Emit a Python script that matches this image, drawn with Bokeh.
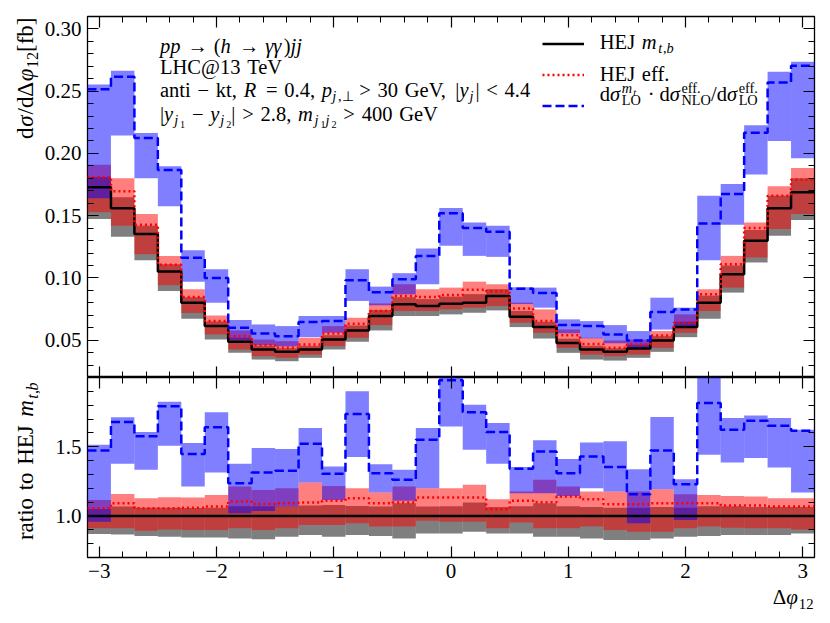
import math
from bokeh.plotting import figure
from bokeh.layouts import column, row
from bokeh.models import (Range1d, LinearAxis, FixedTicker, Label, Legend, LegendItem,
                          PrintfTickFormatter)
from bokeh.embed import file_html
from bokeh.resources import INLINE

# ---------------- data ----------------
edges = [-3.1, -2.9, -2.7, -2.5, -2.3, -2.1, -1.9, -1.7, -1.5, -1.3, -1.1, -0.9, -0.7, -0.5,
         -0.3, -0.1, 0.1, 0.3, 0.5, 0.7, 0.9, 1.1, 1.3, 1.5, 1.7, 1.9, 2.1, 2.3, 2.5, 2.7,
         2.9, 3.1]

# HEJ m_{t,b}
hej_mt = [0.1728, 0.1559, 0.1352, 0.1051, 0.0801, 0.0613, 0.0487, 0.0425, 0.0406, 0.0425,
          0.0505, 0.0578, 0.0694, 0.0788, 0.0774, 0.0793, 0.0801, 0.0855, 0.0688, 0.0605,
          0.0478, 0.0425, 0.0406, 0.0433, 0.0497, 0.0605, 0.0801, 0.1030, 0.1298, 0.1559,
          0.1688]
hej_mt_lo = [0.1473, 0.1331, 0.1142, 0.0895, 0.0672, 0.0505, 0.0398, 0.0344, 0.0331, 0.0358,
             0.0425, 0.0487, 0.0578, 0.0694, 0.0694, 0.0707, 0.0720, 0.0739, 0.0605, 0.0513,
             0.0398, 0.0344, 0.0336, 0.0358, 0.0406, 0.0524, 0.0672, 0.0882, 0.1124, 0.1339,
             0.1465]
hej_mt_hi = [0.1810, 0.1648, 0.1420, 0.1110, 0.0845, 0.0650, 0.0520, 0.0455, 0.0435, 0.0455,
             0.0540, 0.0618, 0.0742, 0.0845, 0.0830, 0.0850, 0.0870, 0.0910, 0.0735, 0.0648,
             0.0512, 0.0455, 0.0435, 0.0463, 0.0532, 0.0648, 0.0858, 0.1100, 0.1385, 0.1660,
             0.1800]
# HEJ eff.
hej_eff = [0.1809, 0.1696, 0.1427, 0.1105, 0.0847, 0.0653, 0.0532, 0.0460, 0.0438, 0.0465,
           0.0554, 0.0632, 0.0734, 0.0855, 0.0847, 0.0863, 0.0905, 0.0893, 0.0755, 0.0653,
           0.0540, 0.0470, 0.0438, 0.0465, 0.0538, 0.0640, 0.0868, 0.1110, 0.1401, 0.1661,
           0.1788]
hej_eff_lo = [0.1527, 0.1419, 0.1191, 0.0941, 0.0718, 0.0546, 0.0425, 0.0371, 0.0358, 0.0384,
              0.0452, 0.0519, 0.0621, 0.0734, 0.0734, 0.0747, 0.0761, 0.0774, 0.0640, 0.0559,
              0.0438, 0.0384, 0.0371, 0.0384, 0.0438, 0.0559, 0.0734, 0.0922, 0.1164, 0.1392,
              0.1513]
hej_eff_hi = [0.1909, 0.1801, 0.1513, 0.1177, 0.0909, 0.0699, 0.0578, 0.0505, 0.0492, 0.0519,
              0.0613, 0.0680, 0.0795, 0.0949, 0.0909, 0.0922, 0.0970, 0.0949, 0.0801, 0.0747,
              0.0586, 0.0519, 0.0497, 0.0505, 0.0573, 0.0707, 0.0909, 0.1177, 0.1446, 0.1737,
              0.1882]
# dsigma_LO^{mt} * dsigma_NLO^eff / dsigma_LO^eff
rescaled = [0.2516, 0.2616, 0.2124, 0.1866, 0.1161, 0.1000, 0.0599, 0.0554, 0.0532, 0.0645,
            0.0653, 0.0981, 0.0885, 0.0989, 0.1177, 0.1519, 0.1401, 0.1371, 0.0912, 0.0878,
            0.0621, 0.0613, 0.0546, 0.0497, 0.0726, 0.0747, 0.1438, 0.1675, 0.2167, 0.2570,
            0.2704]
rescaled_lo = [0.1640, 0.2145, 0.1801, 0.1575, 0.0970, 0.0801, 0.0500, 0.0460, 0.0450, 0.0524,
               0.0560, 0.0815, 0.0780, 0.0868, 0.0949, 0.1258, 0.1177, 0.1169, 0.0790, 0.0761,
               0.0555, 0.0515, 0.0475, 0.0430, 0.0585, 0.0610, 0.1142, 0.1427, 0.1831, 0.2099,
               0.1962]
rescaled_hi = [0.2554, 0.2664, 0.2164, 0.1898, 0.1223, 0.1070, 0.0661, 0.0626, 0.0613, 0.0694,
               0.0694, 0.1070, 0.0930, 0.1038, 0.1237, 0.1562, 0.1446, 0.1419, 0.0925, 0.0922,
               0.0667, 0.0653, 0.0621, 0.0573, 0.0841, 0.0761, 0.1661, 0.1755, 0.2226, 0.2656,
               0.2737]

# ratio to HEJ m_{t,b}
r_mt_lo = [0.870, 0.867, 0.855, 0.850, 0.845, 0.845, 0.838, 0.831, 0.850, 0.862, 0.850, 0.862,
           0.855, 0.838, 0.874, 0.874, 0.886, 0.874, 0.874, 0.850, 0.850, 0.838, 0.826, 0.826,
           0.838, 0.850, 0.855, 0.862, 0.862, 0.862, 0.874]
r_mt_hi = [1.050, 1.068, 1.060, 1.060, 1.058, 1.060, 1.070, 1.070, 1.070, 1.075, 1.080, 1.072,
           1.068, 1.092, 1.068, 1.070, 1.097, 1.065, 1.070, 1.092, 1.070, 1.065, 1.060, 1.060,
           1.065, 1.060, 1.070, 1.070, 1.065, 1.065, 1.065]
r_eff = [1.056, 1.092, 1.056, 1.056, 1.060, 1.068, 1.104, 1.087, 1.092, 1.097, 1.109, 1.128,
         1.092, 1.097, 1.133, 1.133, 1.133, 1.048, 1.109, 1.099, 1.140, 1.121, 1.085, 1.085,
         1.092, 1.092, 1.092, 1.075, 1.075, 1.068, 1.068]
r_eff_lo = [0.911, 0.911, 0.894, 0.903, 0.899, 0.899, 0.911, 0.899, 0.911, 0.935, 0.935, 0.947,
            0.923, 0.923, 0.966, 0.959, 0.959, 0.911, 0.952, 0.911, 0.911, 0.923, 0.899, 0.886,
            0.886, 0.911, 0.923, 0.915, 0.911, 0.911, 0.903]
r_eff_hi = [1.116, 1.159, 1.128, 1.135, 1.133, 1.152, 1.213, 1.188, 1.200, 1.242, 1.217, 1.200,
            1.169, 1.213, 1.200, 1.200, 1.225, 1.121, 1.176, 1.261, 1.213, 1.176, 1.176, 1.176,
            1.193, 1.157, 1.152, 1.145, 1.140, 1.128, 1.128]
r_resc = [1.473, 1.679, 1.575, 1.792, 1.447, 1.640, 1.237, 1.314, 1.326, 1.522, 1.304, 1.737,
          1.309, 1.261, 1.551, 1.981, 1.749, 1.606, 1.341, 1.466, 1.309, 1.430, 1.353, 1.157,
          1.473, 1.229, 1.816, 1.623, 1.688, 1.652, 1.616]
r_resc_lo = [0.959, 1.377, 1.333, 1.507, 1.213, 1.314, 1.019, 1.036, 1.068, 1.242, 1.116, 1.425,
             1.169, 1.109, 1.200, 1.647, 1.478, 1.377, 1.164, 1.164, 1.145, 1.200, 1.176, 0.947,
             1.193, 0.971, 1.442, 1.386, 1.418, 1.350, 1.169]
r_resc_hi = [1.514, 1.713, 1.606, 1.824, 1.527, 1.749, 1.377, 1.490, 1.483, 1.635, 1.357, 1.901,
             1.374, 1.333, 1.635, 2.050, 1.804, 1.671, 1.353, 1.546, 1.411, 1.531, 1.539, 1.338,
             1.715, 1.266, 2.050, 1.708, 1.725, 1.708, 1.623]

x_ticks = [-3, -2, -1, 0, 1, 2, 3]
x_tick_labels = {-3: "−3", -2: "−2", -1: "−1", 0: "0", 1: "1", 2: "2", 3: "3"}
x_minor = [round(-3.0 + 0.2 * i, 1) for i in range(31)]
y_top_ticks = [0.05, 0.10, 0.15, 0.20, 0.25, 0.30]
y_top_minor = [round(0.02 + 0.01 * i, 2) for i in range(30)]
y_bot_ticks = [1.0, 1.5]
y_bot_minor = [round(0.7 + 0.1 * i, 1) for i in range(14)]

FONT = "Liberation Serif"
SPACE = 0.33   # em, word gap used by the layout helper
MID = 0.34     # em, distance baseline -> middle of the text box

# ---------------- rich text helper (sub/superscripts as separate real texts) ----------------
REG = {'(': 0.333, ')': 0.333, ',': 0.25, '.': 0.25, '/': 0.278, '<': 0.564,
       '=': 0.564, '>': 0.564, '@': 0.921, '[': 0.333, ']': 0.333, '|': 0.2, '−': 0.564,
       '→': 0.95, '·': 0.25, '⊥': 0.75, 'Δ': 0.64, 'σ': 0.55, 'φ': 0.6, 'γ': 0.45}
for ch in "0123456789":
    REG[ch] = 0.5
REG.update(dict(zip("ABCDEFGHIJKLMNOPQRSTUVWXYZ",
                    [0.722, 0.667, 0.667, 0.722, 0.611, 0.556, 0.722, 0.722, 0.333, 0.389,
                     0.722, 0.611, 0.889, 0.722, 0.722, 0.556, 0.722, 0.667, 0.556, 0.611,
                     0.722, 0.722, 0.944, 0.722, 0.722, 0.611])))
REG.update(dict(zip("abcdefghijklmnopqrstuvwxyz",
                    [0.444, 0.5, 0.444, 0.5, 0.444, 0.333, 0.5, 0.5, 0.278, 0.278, 0.5, 0.278,
                     0.778, 0.5, 0.5, 0.5, 0.5, 0.333, 0.389, 0.278, 0.5, 0.5, 0.722, 0.5, 0.5,
                     0.444])))
ITA = dict(zip("abcdefghijklmnopqrstuvwxyz",
               [0.53, 0.43, 0.43, 0.52, 0.47, 0.49, 0.48, 0.576, 0.345, 0.412, 0.52, 0.3, 0.8,
                0.6, 0.485, 0.503, 0.446, 0.451, 0.469, 0.33, 0.572, 0.485, 0.716, 0.572, 0.49,
                0.465]))
ITA.update({'R': 0.759, 'σ': 0.571, 'φ': 0.6, 'γ': 0.45})


def tw(s, it):
    tab = ITA if it else REG
    return sum(tab.get(c, REG.get(c, 0.5)) for c in s)


def N(t): return (t, False, 1.0, 0.0)
def I(t): return (t, True, 1.0, 0.0)
def SB(t, it=False): return (t, it, 0.7, -4.5)
def SS(t, it=False): return (t, it, 0.5, -7.0)
def SP(t, it=False): return (t, it, 0.7, 8.0)
def SPS(t, it=False): return (t, it, 0.5, 5.0)
def STACK(up, low): return ("__stack__", up, low)


def rich(fig, x, y, segs, size, angle=0.0, anchor="start"):
    """x, y: start of the baseline (frame screen units, y up)."""
    items = []

    def place(group, start):
        p = start
        for t, it, sc, dy in group:
            fs = size * sc
            for k, w in enumerate(t.split(" ")):
                if k > 0:
                    p += SPACE * fs
                if w:
                    wd = tw(w, it) * fs
                    items.append((p, wd, dy, w, it, fs))
                    p += wd
        return p

    pos = 0.0
    for s in segs:
        if s[0] == "__stack__":
            pos = max(place(s[1], pos), place(s[2], pos))
        else:
            pos = place([s], pos)
    shift = {"start": 0.0, "middle": -pos / 2.0, "end": -pos}[anchor]
    for off, wd, dy, t, it, fs in items:
        o = off + shift
        if angle == 0.0:
            lx, ly, al = x + o, y + dy + MID * fs, "left"
        else:
            lx, ly, al = x - dy - MID * fs, y + o + wd / 2.0, "center"
        fig.add_layout(Label(x=lx, y=ly, x_units="screen", y_units="screen", text=t,
                             text_font=FONT, text_font_style="italic" if it else "normal",
                             text_font_size=f"{fs:.1f}px", text_color="black", angle=angle,
                             text_align=al, text_baseline="middle"))


def mk_axis(ticks, minor, labels, formatter=None, overrides=None, standoff=6):
    ax = LinearAxis(ticker=FixedTicker(ticks=ticks, minor_ticks=minor))
    ax.major_tick_in = 11
    ax.major_tick_out = 0
    ax.minor_tick_in = 6
    ax.minor_tick_out = 0
    ax.major_tick_line_color = "black"
    ax.minor_tick_line_color = "black"
    ax.major_tick_line_width = 1.2
    ax.minor_tick_line_width = 1.0
    ax.axis_line_color = None
    if labels:
        ax.major_label_text_font = FONT
        ax.major_label_text_font_size = "21px"
        ax.major_label_text_color = "black"
        ax.major_label_standoff = standoff
        if formatter is not None:
            ax.formatter = formatter
        if overrides is not None:
            ax.major_label_overrides = overrides
    else:
        ax.major_label_text_font_size = "0px"
        ax.major_label_text_color = None
        ax.major_label_standoff = 0
    return ax


def step_y(v):
    return list(v) + [v[-1]]


def no_grid(f):
    for g in f.grid:
        g.visible = False


LEFT, RIGHT = 47, 16
PW = 790
TOTAL_H = 621
TOP_H = 377
BOT_B = 31
BOT_H = 180 + BOT_B
XH = TOTAL_H - TOP_H - BOT_H
xr = Range1d(-3.1, 3.1)

# ---------------- top panel ----------------
top = figure(width=PW, height=TOP_H, x_range=xr, y_range=Range1d(0.02, 0.31), title=None,
             output_backend="svg", toolbar_location=None, x_axis_location=None,
             y_axis_location=None, min_border_left=LEFT, min_border_right=RIGHT,
             min_border_top=16, min_border_bottom=0)
no_grid(top)
top.outline_line_color = "black"
top.outline_line_width = 1.3
top.add_layout(mk_axis(x_ticks, x_minor, False), "below")
top.add_layout(mk_axis(x_ticks, x_minor, False), "above")
top.add_layout(mk_axis(y_top_ticks, y_top_minor, True, PrintfTickFormatter(format="%.2f")), "left")
top.add_layout(mk_axis(y_top_ticks, y_top_minor, False), "right")

L, R = edges[:-1], edges[1:]
top.quad(left=L, right=R, bottom=hej_mt_lo, top=hej_mt_hi, fill_color="black", fill_alpha=0.5,
         line_color=None)
top.quad(left=L, right=R, bottom=hej_eff_lo, top=hej_eff_hi, fill_color="red", fill_alpha=0.5,
         line_color=None)
top.quad(left=L, right=R, bottom=rescaled_lo, top=rescaled_hi, fill_color="blue",
         fill_alpha=0.5, line_color=None)
rb = top.step(x=edges, y=step_y(hej_mt), mode="after", line_color="black", line_width=2.5)
rr = top.step(x=edges, y=step_y(hej_eff), mode="after", line_color="red", line_width=2.5,
              line_dash="2 3")
rbl = top.step(x=edges, y=step_y(rescaled), mode="after", line_color="blue", line_width=2.5,
               line_dash="9 4")

leg = Legend(items=[LegendItem(label=" ", renderers=[rb]),
                    LegendItem(label=" ", renderers=[rr]),
                    LegendItem(label=" ", renderers=[rbl])],
             location="top_right", margin=17, padding=7, spacing=10, glyph_width=42,
             glyph_height=21, label_height=21, label_width=208, label_standoff=5,
             label_text_font_size="6px", label_text_color=None, border_line_color=None,
             background_fill_alpha=0.0)
top.add_layout(leg)

# process / cuts text (frame coords: x from frame left, y up from frame bottom)
TS = 20.5
rich(top, 72.5, 325, [I("pp"), N(" → "), N("("), I("h"), N(" → "), I("γγ"), N(")"), I("jj")], TS)
rich(top, 72.5, 303.5, [N("LHC@13 TeV")], TS)
rich(top, 72.5, 281, [N("anti − kt, "), I("R"), N(" = 0.4, "), I("p"), SB("j", True), SB(",⊥"),
                      N(" > 30 GeV, |"), I("y"), SB("j", True), N("| < 4.4")], TS)
rich(top, 72.5, 257, [N("|"), I("y"), SB("j", True), SS("1"), N(" − "), I("y"), SB("j", True),
                      SS("2"), N("| > 2.8, "), I("m"), SB("j", True), SS("1"), SB("j", True),
                      SS("2"), N(" > 400 GeV")], TS)
# legend labels
rich(top, 512.3, 328.7, [N("HEJ "), I("m"), SB("t", True), SB(","), SB("b", True)], TS)
rich(top, 512.3, 297, [N("HEJ eff.")], TS)
rich(top, 512.3, 277, [N("d"), I("σ"), STACK([SP("m", True), SPS("t", True)], [SB("LO")]),
                       N(" · d"), I("σ"), STACK([SP("eff.")], [SB("NLO")]), N("/d"), I("σ"),
                       STACK([SP("eff.")], [SB("LO")])], TS)

# ---------------- ratio panel ----------------
bot = figure(width=PW, height=BOT_H, x_range=xr, y_range=Range1d(0.7, 2.0), title=None,
             output_backend="svg", toolbar_location=None, x_axis_location=None,
             y_axis_location=None, min_border_left=LEFT, min_border_right=RIGHT,
             min_border_top=0, min_border_bottom=BOT_B)
no_grid(bot)
bot.outline_line_color = "black"
bot.outline_line_width = 1.3
bot.add_layout(mk_axis(x_ticks, x_minor, True, overrides=x_tick_labels, standoff=6), "below")
bot.add_layout(mk_axis(x_ticks, x_minor, False), "above")
bot.add_layout(mk_axis(y_bot_ticks, y_bot_minor, True, PrintfTickFormatter(format="%.1f")), "left")
bot.add_layout(mk_axis(y_bot_ticks, y_bot_minor, False), "right")

r_mt = [v / v for v in hej_mt]
bot.quad(left=L, right=R, bottom=r_mt_lo, top=r_mt_hi, fill_color="black", fill_alpha=0.5,
         line_color=None)
bot.quad(left=L, right=R, bottom=r_eff_lo, top=r_eff_hi, fill_color="red", fill_alpha=0.5,
         line_color=None)
bot.quad(left=L, right=R, bottom=r_resc_lo, top=r_resc_hi, fill_color="blue", fill_alpha=0.5,
         line_color=None)
bot.step(x=edges, y=step_y(r_mt), mode="after", line_color="black", line_width=2.5)
bot.step(x=edges, y=step_y(r_eff), mode="after", line_color="red", line_width=2.5,
         line_dash="2 3")
bot.step(x=edges, y=step_y(r_resc), mode="after", line_color="blue", line_width=2.5,
         line_dash="9 4")

# ---------------- x title strip (below the tick labels, right aligned) ----------------
xlab = figure(width=PW, height=XH, x_range=xr, y_range=Range1d(0, 1), title=None,
              output_backend="svg", toolbar_location=None, x_axis_location=None,
              y_axis_location=None, min_border_left=LEFT, min_border_right=RIGHT,
              min_border_top=0, min_border_bottom=0)
no_grid(xlab)
xlab.outline_line_color = None
rich(xlab, 726, TOTAL_H - 604, [N("Δ"), I("φ"), SB("12")], 21, anchor="end")

# ---------------- y titles strip ----------------
ylab = figure(width=40, height=TOTAL_H, output_backend="svg", toolbar_location=None,
              title=None, x_axis_location=None, y_axis_location=None, min_border=0,
              x_range=Range1d(0, 1), y_range=Range1d(0, 1))
no_grid(ylab)
ylab.outline_line_color = None
rich(ylab, 33, TOTAL_H - 17, [N("d"), I("σ"), N("/d"), N("Δ"), I("φ"), SB("12"), N("[fb]")], 23,
     angle=math.pi / 2, anchor="end")
rich(ylab, 33, TOTAL_H - 461, [N("ratio to HEJ "), I("m"), SB("t", True), SB(","),
                               SB("b", True)], 23, angle=math.pi / 2, anchor="middle")

layout = row(ylab, column(top, bot, xlab))
open("out.html", "w").write(file_html(layout, INLINE))
